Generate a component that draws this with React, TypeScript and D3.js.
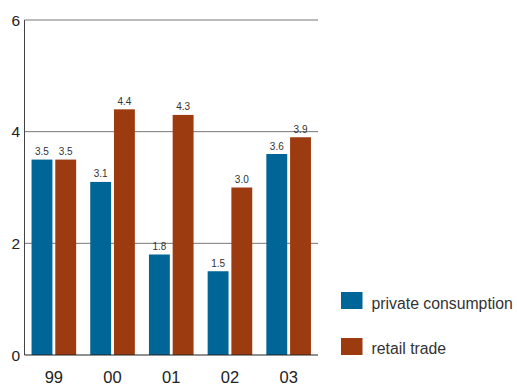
import React from "react";
import * as d3 from "d3";

const years = ["99", "00", "01", "02", "03"];
const privateConsumption = [3.5, 3.1, 1.8, 1.5, 3.6];
const retailTrade = [3.5, 4.4, 4.3, 3.0, 3.9];
const seriesNames = ["private consumption", "retail trade"];
const seriesColors = ["#006597", "#9d3b10"];
const yTicks = [0, 2, 4, 6];

const W = 517;
const H = 384;
const left = 24.5;
const right = 318;
const top = 20;
const bottom = 355;
const FONT = "'Liberation Sans', Arial, Helvetica, sans-serif";

export default function App() {
  const x = d3.scaleBand<string>().domain(years).range([left, right]).paddingInner(0.24).paddingOuter(0.12);
  const inner = d3.scaleBand<number>().domain([0, 1]).range([0, x.bandwidth()]).paddingInner(0.12);
  const y = d3.scaleLinear().domain([0, 6]).range([bottom, top]);
  const series = [privateConsumption, retailTrade];

  return (
    <svg width={W} height={H} style={{ position: "absolute", left: 0, top: 0 }} fontFamily={FONT}>
      {yTicks.filter((t) => t > 0).map((t) => (
        <line key={"g" + t} x1={left} x2={right} y1={y(t)} y2={y(t)} stroke="#777" strokeWidth={1} />
      ))}
      {yTicks.map((t) => (
        <text key={"yt" + t} x={20} y={y(t) + 5.5} textAnchor="end" fontSize={15.5} fill="#222">
          {t}
        </text>
      ))}
      {series.map((vals, si) =>
        vals.map((v, i) => {
          const bx = (x(years[i]) as number) + (inner(si) as number);
          return (
            <g key={si + "-" + i}>
              <rect x={bx} y={y(v)} width={inner.bandwidth()} height={bottom - y(v)} fill={seriesColors[si]} />
              <text x={bx + inner.bandwidth() / 2} y={y(v) - 4.5} textAnchor="middle" fontSize={10} fill="#333">
                {v.toFixed(1)}
              </text>
            </g>
          );
        })
      )}
      <line x1={left} x2={left} y1={top} y2={bottom} stroke="#444" strokeWidth={1} />
      <line x1={left} x2={right} y1={bottom} y2={bottom} stroke="#222" strokeWidth={1.2} />
      {years.map((yr) => (
        <text key={"xt" + yr} x={(x(yr) as number) + x.bandwidth() / 2} y={382.5} textAnchor="middle" fontSize={16.5} fill="#222">
          {yr}
        </text>
      ))}
      {seriesNames.map((name, i) => (
        <g key={"lg" + i}>
          <rect x={341} y={292 + i * 46} width={21.5} height={17} fill={seriesColors[i]} />
          <text x={371.5} y={309 + i * 45} fontSize={15.8} fill="#333">
            {name}
          </text>
        </g>
      ))}
    </svg>
  );
}
